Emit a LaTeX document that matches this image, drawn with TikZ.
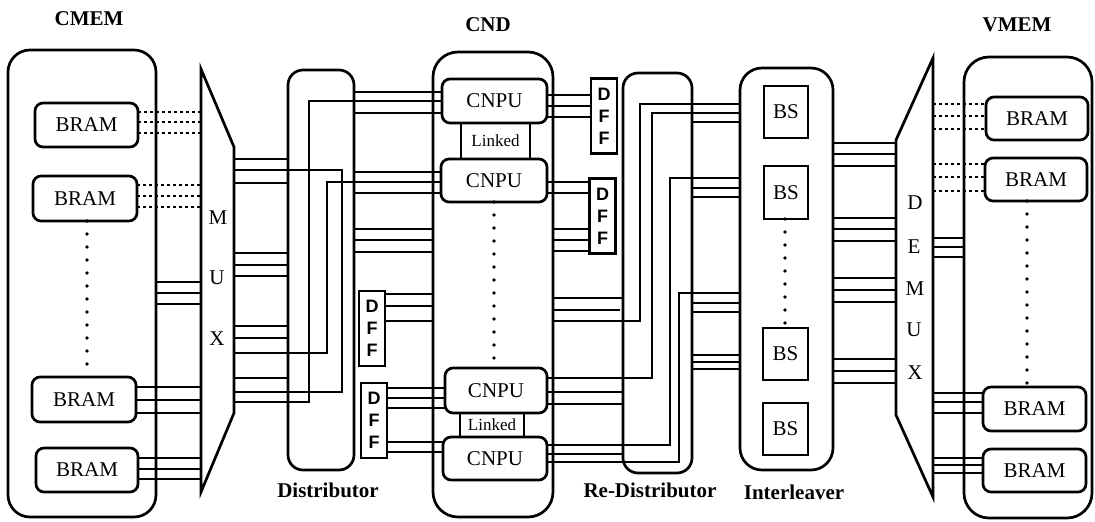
\documentclass[tikz,border=0pt]{standalone}
\usepackage{fontspec}
\setmainfont{Liberation Serif}
\newfontfamily\dffsans{Liberation Sans}
\tikzset{
  shell/.style={draw, line width=2.7pt, inner sep=0pt, outer sep=0pt},
  unitbox/.style={draw, line width=2.7pt, rounded corners=8pt, inner sep=0pt, outer sep=0pt,
                  font=\fontsize{21}{24}\selectfont},
  sqbox/.style={draw, line width=2.7pt, inner sep=0pt, outer sep=0pt,
                font=\fontsize{21}{24}\selectfont},
  linkbox/.style={draw, line width=2.7pt, inner sep=0pt, outer sep=0pt,
                  font=\fontsize{17}{20}\selectfont},
  dffbox/.style={draw, line width=2.7pt, inner sep=0pt, outer sep=0pt, align=center,
                 minimum width=26pt, minimum height=75pt,
                 font=\dffsans\bfseries\fontsize{18}{22}\selectfont},
  wire/.style={line width=2.5pt},
  dotwire/.style={line width=2.5pt, dash pattern=on 3pt off 3pt},
  ellipsis/.style={line width=3.8pt, line cap=round, dash pattern=on 0pt off 13pt},
  title/.style={font=\bfseries\fontsize{21}{24}\selectfont},
  letter/.style={font=\fontsize{21}{24}\selectfont},
}
\begin{document}
\begin{tikzpicture}[x=1pt,y=-1pt]
\useasboundingbox (0,0) rectangle (1095,522);

% ---------- titles ----------
\node[title] (tcmem) at (89,19) {CMEM};
\node[title] (tcnd)  at (488,25) {CND};
\node[title] (tvmem) at (1017,25) {VMEM};
\node[title] (tdist) at (328,490) {Distributor};
\node[title] (tred)  at (650,490) {Re-Distributor};
\node[title] (tint)  at (794,492) {Interleaver};

% ---------- containers ----------
\node[shell, rounded corners=22pt, minimum width=148pt, minimum height=467pt] (cmem)   at (82,283.5) {};
\node[shell, rounded corners=15pt, minimum width=66pt,  minimum height=400pt] (dist)   at (321,270) {};
\node[shell, rounded corners=25pt, minimum width=120pt, minimum height=465pt] (cnd)    at (493,284.5) {};
\node[shell, rounded corners=15pt, minimum width=69pt,  minimum height=400pt] (redist) at (657.5,273) {};
\node[shell, rounded corners=22pt, minimum width=93pt,  minimum height=402pt] (inter)  at (786.5,269) {};
\node[shell, rounded corners=25pt, minimum width=128pt, minimum height=461pt] (vmem)   at (1028,287.5) {};

% ---------- CMEM memories ----------
\node[unitbox, minimum width=103pt, minimum height=44pt] (cb1) at (86.5,125)   {BRAM};
\node[unitbox, minimum width=104pt, minimum height=45pt] (cb2) at (85,198.5)   {BRAM};
\node[unitbox, minimum width=104pt, minimum height=45pt] (cb3) at (84,399.5)   {BRAM};
\node[unitbox, minimum width=102pt, minimum height=44pt] (cb4) at (87,470)     {BRAM};
\draw[ellipsis] (cb2.south -| 87,0) -- (cb3.north -| 87,0);

% ---------- VMEM memories ----------
\node[unitbox, minimum width=102pt, minimum height=43pt] (vb1) at (1037,118.5)   {BRAM};
\node[unitbox, minimum width=102pt, minimum height=43pt] (vb2) at (1036,179.5)   {BRAM};
\node[unitbox, minimum width=103pt, minimum height=44pt] (vb3) at (1034.5,409)   {BRAM};
\node[unitbox, minimum width=103pt, minimum height=43pt] (vb4) at (1034.5,470.5) {BRAM};
\draw[ellipsis] (vb2.south -| 1027,0) -- (vb3.north -| 1027,0);

% ---------- CND processing units ----------
\node[unitbox, minimum width=105pt, minimum height=44pt] (cp1) at (494.5,101)   {CNPU};
\node[unitbox, minimum width=106pt, minimum height=43pt] (cp2) at (494,180.5)   {CNPU};
\node[unitbox, minimum width=102pt, minimum height=45pt] (cp3) at (496,390.5)   {CNPU};
\node[unitbox, minimum width=104pt, minimum height=43pt] (cp4) at (495,458.5)   {CNPU};
\node[linkbox, minimum width=69pt, minimum height=36pt] (lk1) at (495.5,141) {Linked};
\node[linkbox, minimum width=64pt, minimum height=24pt] (lk2) at (492,425)   {Linked};
\draw[ellipsis] (cp2.south -| 494,0) -- (cp3.north -| 494,0);

% ---------- flip-flops ----------
\node[dffbox] (ff1) at (372,328.5)  {D\\F\\F};
\node[dffbox] (ff2) at (374,420.5)  {D\\F\\F};
\node[dffbox] (ff3) at (604,116)    {D\\F\\F};
\node[dffbox] (ff4) at (602.5,216)  {D\\F\\F};

% ---------- barrel shifters ----------
\node[sqbox, minimum width=44pt, minimum height=52pt] (bs1) at (786,112)    {BS};
\node[sqbox, minimum width=44pt, minimum height=53pt] (bs2) at (786,192.5)  {BS};
\node[sqbox, minimum width=45pt, minimum height=52pt] (bs3) at (785.5,354)  {BS};
\node[sqbox, minimum width=45pt, minimum height=52pt] (bs4) at (785.5,429)  {BS};
\draw[ellipsis] (bs2.south -| 785,0) -- (bs3.north -| 785,0);

% ---------- multiplexer / demultiplexer ----------
\coordinate (muxL) at (201,0);
\coordinate (muxR) at (234,0);
\coordinate (dmxL) at (896,0);
\coordinate (dmxR) at (933,0);
\draw[line width=2.7pt] (201,69) -- (234,147) -- (234,413) -- (201,492) -- cycle;
\draw[line width=2.7pt] (896,140) -- (933,58) -- (933,497) -- (896,415) -- cycle;
\node[letter] (mm) at (218,218) {M};
\node[letter] (mu) at (217,278) {U};
\node[letter] (mx) at (217,339) {X};
\node[letter] (dd) at (915,203) {D};
\node[letter] (de) at (914,247) {E};
\node[letter] (dm) at (915,289) {M};
\node[letter] (du) at (914,330) {U};
\node[letter] (dx) at (915,373) {X};

% ---------- CMEM -> MUX ----------
\foreach \y in {112,122,133} \draw[dotwire] (cb1.east |- 0,\y) -- (muxL |- 0,\y);
\foreach \y in {185,196,207} \draw[dotwire] (cb2.east |- 0,\y) -- (muxL |- 0,\y);
\foreach \y in {282,293,304} \draw[wire] (cmem.east |- 0,\y) -- (muxL |- 0,\y);
\foreach \y in {387,400,413} \draw[wire] (cb3.east |- 0,\y) -- (muxL |- 0,\y);
\foreach \y in {458,469,479} \draw[wire] (cb4.east |- 0,\y) -- (muxL |- 0,\y);

% ---------- MUX -> Distributor ----------
\foreach \y in {159,183,253,265,276,326,338,378}
  \draw[wire] (muxR |- 0,\y) -- (dist.west |- 0,\y);
\draw[wire] (muxR |- 0,170) -- (342,170) -- (342,392) -- (muxR |- 0,392);
\draw[wire] (muxR |- 0,353) -- (327,353) -- (327,182) -- (cp2.west |- 0,182);
\draw[wire] (muxR |- 0,402) -- (309,402) -- (309,101) -- (cp1.west |- 0,101);

% ---------- Distributor -> CND ----------
\foreach \y in {92,113} \draw[wire] (dist.east |- 0,\y) -- (cp1.west |- 0,\y);
\foreach \y in {172,193} \draw[wire] (dist.east |- 0,\y) -- (cp2.west |- 0,\y);
\foreach \y in {229,240,252} \draw[wire] (dist.east |- 0,\y) -- (cnd.west |- 0,\y);
\foreach \y in {294,306,321} \draw[wire] (ff1.east |- 0,\y) -- (cnd.west |- 0,\y);
\foreach \y in {388,398,408} \draw[wire] (ff2.east |- 0,\y) -- (cp3.west |- 0,\y);
\foreach \y in {442,452} \draw[wire] (ff2.east |- 0,\y) -- (cp4.west |- 0,\y);

% ---------- CND -> Re-Distributor ----------
\foreach \y in {95,106,117} \draw[wire] (cp1.east |- 0,\y) -- (ff3.west |- 0,\y);
\foreach \y in {182,193} \draw[wire] (cp2.east |- 0,\y) -- (ff4.west |- 0,\y);
\foreach \y in {229,240,251} \draw[wire] (cnd.east |- 0,\y) -- (ff4.west |- 0,\y);
\draw[wire] (cnd.east |- 0,298) -- (redist.west |- 0,298);
\draw[wire] (cnd.east |- 0,310) -- (620,310);
\draw[wire] (cnd.east |- 0,321) -- (640,321) -- (640,104) -- (inter.west |- 0,104);
\draw[wire] (cp3.east |- 0,378) -- (652,378) -- (652,113) -- (inter.west |- 0,113);
\foreach \y in {392,404} \draw[wire] (cp3.east |- 0,\y) -- (redist.west |- 0,\y);
\draw[wire] (cp4.east |- 0,445) -- (670,445) -- (670,178) -- (inter.west |- 0,178);
\draw[wire] (cp4.east |- 0,454) -- (redist.west |- 0,454);
\draw[wire] (cp4.east |- 0,462) -- (679,462) -- (679,293) -- (inter.west |- 0,293);

% ---------- Re-Distributor -> Interleaver ----------
\foreach \y in {122,188,197,303,312,355,362,369}
  \draw[wire] (redist.east |- 0,\y) -- (inter.west |- 0,\y);

% ---------- Interleaver -> DEMUX ----------
\foreach \y in {143,154,166,218,229,241,278,290,302,359,371,383}
  \draw[wire] (inter.east |- 0,\y) -- (dmxL |- 0,\y);

% ---------- DEMUX -> VMEM ----------
\foreach \y in {104,116,129} \draw[dotwire] (dmxR |- 0,\y) -- (vb1.west |- 0,\y);
\foreach \y in {164,177,191} \draw[dotwire] (dmxR |- 0,\y) -- (vb2.west |- 0,\y);
\foreach \y in {238,247,257} \draw[wire] (dmxR |- 0,\y) -- (vmem.west |- 0,\y);
\foreach \y in {393,402,413} \draw[wire] (dmxR |- 0,\y) -- (vb3.west |- 0,\y);
\foreach \y in {458,465,473} \draw[wire] (dmxR |- 0,\y) -- (vb4.west |- 0,\y);
\end{tikzpicture}
\end{document}
